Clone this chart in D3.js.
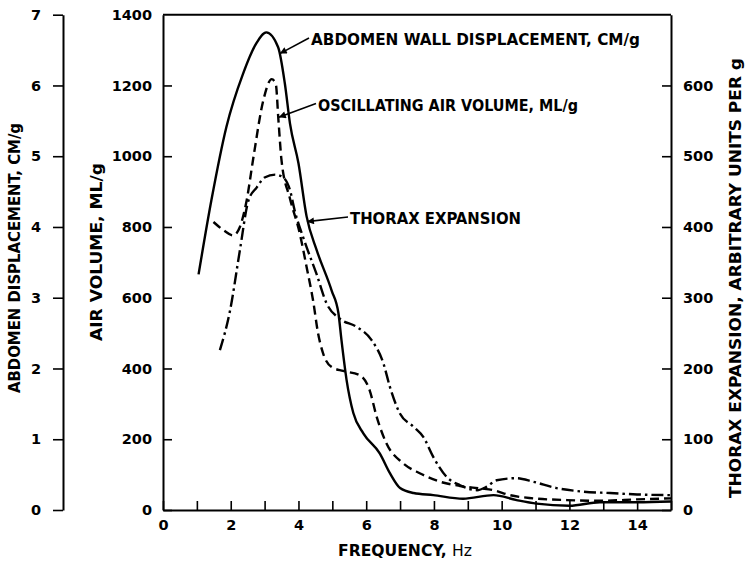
<!DOCTYPE html>
<html>
<head>
<meta charset="utf-8">
<script src="https://d3js.org/d3.v7.min.js"></script>
<style>
  body { margin: 0; background: #fff; }
  svg { display: block; }
  .axis path, .axis line { stroke: #000; }
  .axis text { font-family: "DejaVu Sans", sans-serif; font-weight: bold; font-size: 14.5px; fill: #000; }
  .lbl { font-family: "DejaVu Sans Condensed", "DejaVu Sans", sans-serif; font-weight: bold; font-size: 16px; fill: #000; }
</style>
</head>
<body>
<script>
// abdomen wall displacement, CM/g (solid)
var abdFreq = [1.05, 1.43, 1.87, 2.36, 2.75, 3.05, 3.4, 3.6, 3.75, 4.0, 4.24, 4.54, 4.98, 5.18, 5.27, 5.42, 5.62, 5.92, 6.4, 6.7, 7.0, 7.4, 7.98, 8.86, 9.76, 10.44, 11.03, 12.0, 12.9, 14.0, 15.0];
var abdValue = [3.33, 4.38, 5.41, 6.16, 6.59, 6.75, 6.54, 6.02, 5.46, 4.9, 4.15, 3.67, 3.1, 2.78, 2.4, 1.84, 1.37, 1.08, 0.8, 0.52, 0.31, 0.24, 0.21, 0.16, 0.21, 0.14, 0.09, 0.06, 0.11, 0.11, 0.12];

// oscillating air volume, ML/g (dashed)
var airFreq = [1.49, 1.8, 2.07, 2.27, 2.47, 2.67, 2.96, 3.21, 3.33, 3.41, 3.5, 3.75, 4.04, 4.24, 4.43, 4.58, 4.73, 4.98, 5.32, 5.81, 6.1, 6.31, 6.6, 7.09, 7.58, 8.18, 8.77, 9.36, 9.76, 10.24, 10.93, 11.92, 12.9, 14.0, 15.0];
var airValue = [814, 790, 776, 800, 875, 997, 1157, 1218, 1204, 1100, 988, 880, 781, 687, 593, 499, 442, 404, 393, 381, 339, 263, 188, 132, 104, 80, 68, 61, 56, 42, 33, 28, 26, 30, 33];

// thorax expansion, arbitrary units per g (dash-dot)
var thxFreq = [1.68, 1.98, 2.27, 2.52, 2.77, 3.0, 3.31, 3.55, 3.75, 3.89, 4.17, 4.53, 4.83, 5.23, 5.71, 6.16, 6.51, 6.7, 7.0, 7.39, 7.69, 7.98, 8.37, 8.77, 9.27, 9.56, 9.85, 10.44, 10.93, 11.62, 12.4, 13.2, 14.0, 15.0];
var thxValue = [226, 282, 367, 437, 456, 470, 474, 470, 452, 423, 381, 334, 292, 270, 259, 240, 207, 174, 136, 118, 103, 75, 47, 35, 28, 33, 42, 45, 40, 31, 26, 24, 22, 21];

var freqTicks = d3.range(0, 16);
var airTicks = [0, 200, 400, 600, 800, 1000, 1200, 1400];
var abdTicks = [0, 1, 2, 3, 4, 5, 6, 7];
var thxTicks = [0, 100, 200, 300, 400, 500, 600];

var W = 745, H = 569;
var plotL = 163, plotR = 671, plotT = 14.7, plotB = 510;

var svg = d3.select("body").append("svg")
    .attr("width", W)
    .attr("height", H);

svg.append("defs").append("marker")
    .attr("id", "arrow")
    .attr("viewBox", "0 0 10 10")
    .attr("refX", 10).attr("refY", 5)
    .attr("markerWidth", 9).attr("markerHeight", 7)
    .attr("markerUnits", "userSpaceOnUse")
    .attr("orient", "auto")
  .append("path")
    .attr("d", "M0,0 L10,5 L0,10 z")
    .attr("fill", "#000");

var x = d3.scaleLinear().domain([0, 15]).range([plotL, plotR]);
var yAir = d3.scaleLinear().domain([0, 1400]).range([plotB, plotT]);
var yAbd = d3.scaleLinear().domain([0, 7]).range([plotB, plotT]);
var yThx = d3.scaleLinear().domain([0, 700]).range([plotB, plotT]);

// top frame
svg.append("line")
    .attr("x1", plotL).attr("x2", plotR)
    .attr("y1", plotT).attr("y2", plotT)
    .attr("stroke", "#000").attr("stroke-width", 2);

// x axis
var gx = svg.append("g").attr("class", "axis")
    .attr("transform", "translate(0," + plotB + ")")
    .call(d3.axisBottom(x).tickValues(freqTicks)
        .tickSizeInner(-9).tickSizeOuter(0).tickPadding(10)
        .tickFormat(function(d) { return (d % 2 == 0 && d < 15) ? d : ""; }));

// air volume axis
var gy = svg.append("g").attr("class", "axis")
    .attr("transform", "translate(" + plotL + ",0)")
    .call(d3.axisLeft(yAir).tickValues(airTicks)
        .tickSizeInner(-9).tickSizeOuter(0).tickPadding(11)
        .tickFormat(d3.format("d")));

// abdomen axis (outer left)
var ga = svg.append("g").attr("class", "axis")
    .attr("transform", "translate(63,0)")
    .call(d3.axisLeft(yAbd).tickValues(abdTicks)
        .tickSize(10).tickSizeOuter(0).tickPadding(12)
        .tickFormat(d3.format("d")));

// thorax axis (right)
var gt = svg.append("g").attr("class", "axis")
    .attr("transform", "translate(" + plotR + ",0)")
    .call(d3.axisRight(yThx).tickValues(thxTicks)
        .tickSizeInner(-9).tickSizeOuter(0).tickPadding(12)
        .tickFormat(d3.format("d")));

svg.selectAll(".axis path").attr("stroke-width", 2);
svg.selectAll(".axis line").attr("stroke-width", 1.6);
gy.selectAll(".tick").filter(function(d) { return d == 1400; }).select("line").remove();

// axis titles
function vtitle(cx, cy, len, txt) {
  svg.append("text").attr("class", "lbl")
      .attr("transform", "translate(" + cx + "," + cy + ") rotate(-90)")
      .attr("text-anchor", "middle")
      .attr("dominant-baseline", "central")
      .attr("textLength", len).attr("lengthAdjust", "spacingAndGlyphs")
      .text(txt);
}
vtitle(14, 258, 270, "ABDOMEN DISPLACEMENT, CM/g");
vtitle(96, 252, 178, "AIR VOLUME, ML/g");
vtitle(735, 278, 440, "THORAX EXPANSION, ARBITRARY UNITS PER g");

var xt = svg.append("text").attr("class", "lbl")
    .attr("x", 338).attr("y", 556)
    .attr("textLength", 134).attr("lengthAdjust", "spacingAndGlyphs");
xt.append("tspan").text("FREQUENCY, ");
xt.append("tspan").style("font-weight", "normal").text("Hz");

// curves
function series(fx, fy, ys) {
  return fx.map(function(f, i) { return [x(f), ys(fy[i])]; });
}
var line = d3.line().curve(d3.curveMonotoneX);

svg.append("path")
    .attr("d", line(series(abdFreq, abdValue, yAbd)))
    .attr("fill", "none").attr("stroke", "#000").attr("stroke-width", 2.4);

svg.append("path")
    .attr("d", line(series(airFreq, airValue, yAir)))
    .attr("fill", "none").attr("stroke", "#000").attr("stroke-width", 2.4)
    .attr("stroke-dasharray", "9,5");

svg.append("path")
    .attr("d", line(series(thxFreq, thxValue, yThx)))
    .attr("fill", "none").attr("stroke", "#000").attr("stroke-width", 2.4)
    .attr("stroke-dasharray", "12,4,2.5,4");

// annotations: text start and arrow tip (tip in data units on the air scale)
var notes = [
  { text: "ABDOMEN WALL DISPLACEMENT, CM/g", tx: 311, ty: 45, len: 329, f: 3.45, v: 1290 },
  { text: "OSCILLATING AIR VOLUME, ML/g", tx: 318, ty: 110.5, len: 260, f: 3.42, v: 1110 },
  { text: "THORAX EXPANSION", tx: 350, ty: 224, len: 171, f: 4.25, v: 815 }
];
notes.forEach(function(n) {
  svg.append("text").attr("class", "lbl")
      .attr("x", n.tx).attr("y", n.ty)
      .attr("textLength", n.len).attr("lengthAdjust", "spacingAndGlyphs")
      .text(n.text);
  svg.append("line")
      .attr("x1", n.tx - 2).attr("y1", n.ty - 7)
      .attr("x2", x(n.f)).attr("y2", yAir(n.v))
      .attr("stroke", "#000").attr("stroke-width", 1.6)
      .attr("marker-end", "url(#arrow)");
});
</script>
</body>
</html>
